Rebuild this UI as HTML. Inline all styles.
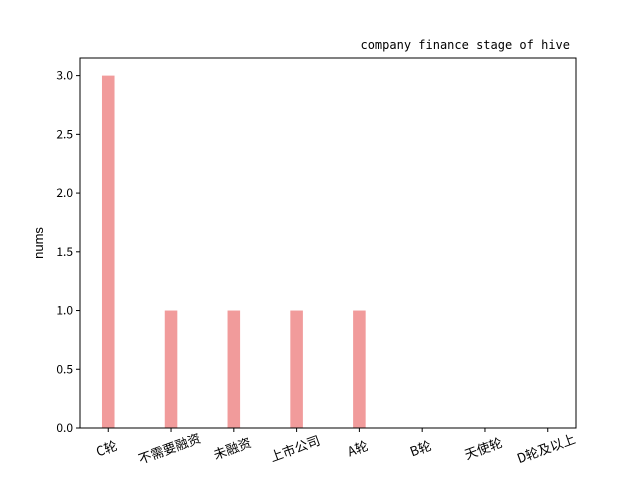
<!DOCTYPE html>
<html><head><meta charset="utf-8"><style>
body{margin:0;background:#fff}
svg{display:block;font-family:"WenQuanYi Zen Hei","Noto Sans CJK SC",sans-serif}
</style></head><body>
<svg id="chart" width="640" height="480" xmlns="http://www.w3.org/2000/svg">
<text x="570" y="49" text-anchor="end" font-size="12" font-family="WenQuanYi Zen Hei, monospace">company finance stage of hive</text>
<text transform="translate(43,243) rotate(-90)" text-anchor="middle" font-size="13" font-family="Liberation Sans, sans-serif">nums</text>
<text x="328" y="491" text-anchor="middle" font-size="13">finance stage</text>
<g id="bars"></g><g id="axes"></g>
<rect x="80" y="58" width="496" height="370" fill="none" stroke="#000" stroke-width="1"/>
</svg>
<script>
const categories=["C轮","不需要融资","未融资","上市公司","A轮","B轮","天使轮","D轮及以上"];
const values=[3,1,1,1,1,0,0,0];
const yTicks=[0,0.5,1.0,1.5,2.0,2.5,3.0];
const yTickLabels=["0.0","0.5","1.0","1.5","2.0","2.5","3.0"];
const NS="http://www.w3.org/2000/svg";
const L=80,R=576,T=58,B=428,xmin=-0.45,xmax=7.45,ymax=3.15;
const xs=v=>L+(v-xmin)/(xmax-xmin)*(R-L);
const ys=v=>B-v/ymax*(B-T);
const bars=document.getElementById('bars'),axes=document.getElementById('axes');
function mk(tag,at,parent){const e=document.createElementNS(NS,tag);for(const k in at)e.setAttribute(k,at[k]);parent.appendChild(e);return e;}
values.forEach((v,i)=>{
 const x0=xs(i-0.1),x1=xs(i+0.1);
 const r=mk('rect',{x:x0,y:ys(v),width:x1-x0,height:ys(0)-ys(v),fill:'#f19b9b'},bars);
 
 
});
categories.forEach((c,i)=>{
 const x=xs(i);
 mk('line',{x1:x,x2:x,y1:B,y2:B+4,stroke:'#000'},axes);
 const t=mk('text',{transform:`translate(${x},${B+25}) rotate(-20)`,'text-anchor':'middle','font-size':'13'},axes);
 t.textContent=c;
 
 
});
yTicks.forEach((v,i)=>{
 const y=ys(v);
 mk('line',{x1:L-4,x2:L,y1:y,y2:y,stroke:'#000'},axes);
 const t=mk('text',{x:L-7,y:y+4,'text-anchor':'end','font-size':'12'},axes);
 t.textContent=yTickLabels[i];
 
 
});
</script>
</body></html>
